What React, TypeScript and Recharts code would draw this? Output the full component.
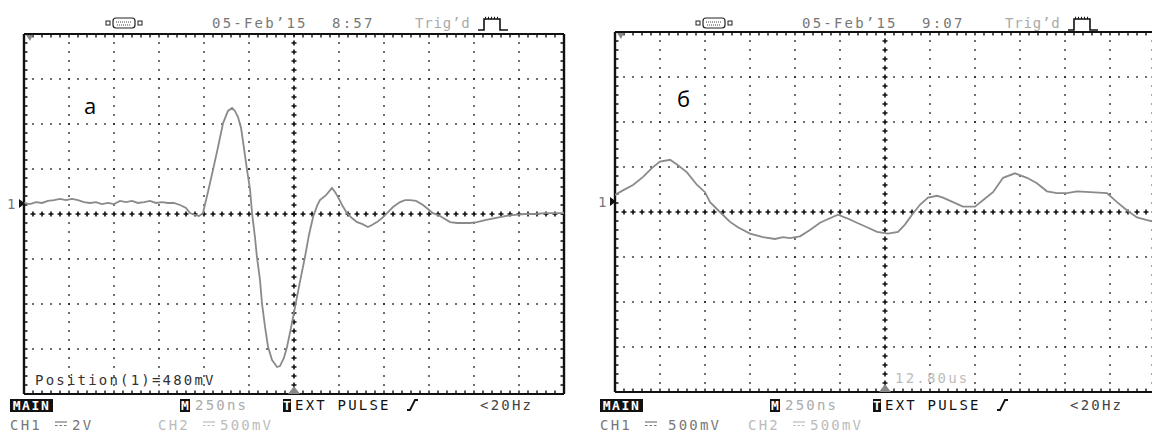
import React from 'react';
import { LineChart, Line, XAxis, YAxis, ReferenceLine } from 'recharts';

// ---- data: panel "а" (time in ns, voltage in V, 2 V/div) ----
const timeA = [-1500, -1467, -1433, -1400, -1367, -1333, -1300, -1267, -1233, -1200, -1167, -1133, -1100, -1067, -1033, -1000, -967, -933, -900, -867, -833, -800, -767, -733, -700, -667, -633, -600, -578, -550, -528, -506, -478, -450, -422, -394, -367, -344, -328, -311, -294, -278, -261, -244, -233, -217, -206, -189, -178, -161, -144, -122, -94, -78, -56, -39, -17, 6, 33, 61, 83, 106, 128, 144, 178, 211, 228, 244, 267, 294, 322, 350, 378, 411, 433, 461, 489, 517, 550, 589, 617, 644, 678, 717, 744, 772, 811, 867, 906, 939, 978, 1017, 1061, 1117, 1172, 1228, 1283, 1339, 1394, 1450, 1500];
const voltA = [0.49, 0.44, 0.53, 0.49, 0.58, 0.62, 0.67, 0.62, 0.67, 0.62, 0.53, 0.49, 0.53, 0.44, 0.49, 0.44, 0.58, 0.53, 0.58, 0.49, 0.53, 0.58, 0.49, 0.53, 0.49, 0.49, 0.4, 0.27, 0.04, -0.04, -0.09, 0.04, 0.98, 1.96, 2.98, 4.04, 4.58, 4.71, 4.58, 4.31, 3.82, 2.93, 1.96, 1.07, 0.04, -1.02, -1.91, -2.93, -3.96, -5.02, -5.91, -6.49, -6.8, -6.76, -6.4, -5.91, -5.07, -4.13, -3.02, -1.91, -0.93, -0.13, 0.36, 0.62, 0.84, 1.16, 0.98, 0.76, 0.4, 0.04, -0.18, -0.36, -0.44, -0.58, -0.49, -0.36, -0.18, 0.04, 0.31, 0.53, 0.62, 0.62, 0.58, 0.4, 0.22, 0.04, -0.09, -0.36, -0.4, -0.4, -0.4, -0.36, -0.27, -0.18, -0.09, -0.04, 0, 0, 0.04, 0.04, 0.04];

// ---- data: panel "б" (time in ns, voltage in V, 0.5 V/div) ----
const timeB = [-1500, -1456, -1400, -1344, -1294, -1250, -1194, -1150, -1100, -1044, -1000, -972, -917, -861, -817, -750, -678, -611, -567, -528, -472, -417, -361, -306, -261, -211, -156, -100, -44, 17, 72, 111, 150, 194, 239, 289, 322, 378, 433, 500, 544, 600, 656, 722, 789, 844, 900, 956, 1011, 1067, 1139, 1233, 1289, 1344, 1400, 1456, 1500];
const voltB = [0.19, 0.24, 0.3, 0.39, 0.49, 0.56, 0.58, 0.52, 0.44, 0.3, 0.22, 0.11, 0, -0.11, -0.17, -0.24, -0.28, -0.3, -0.28, -0.29, -0.27, -0.2, -0.12, -0.07, -0.03, -0.07, -0.12, -0.17, -0.22, -0.24, -0.22, -0.14, -0.03, 0.08, 0.16, 0.18, 0.16, 0.11, 0.06, 0.06, 0.13, 0.22, 0.38, 0.43, 0.38, 0.32, 0.23, 0.21, 0.21, 0.23, 0.22, 0.21, 0.11, 0.02, -0.06, -0.09, -0.11];

// ---- axis ticks (divisions) ----
const timeTicks = [-1500, -1250, -1000, -750, -500, -250, 0, 250, 500, 750, 1000, 1250, 1500];
const voltTicksA = [-8, -6, -4, -2, 0, 2, 4, 6, 8];
const voltTicksB = [-2, -1.5, -1, -0.5, 0, 0.5, 1, 1.5, 2];

const MONO = '"DejaVu Sans Mono", "Liberation Mono", monospace';
const INK = '#111';

function Scope({ times, volts, vTicks }: { times: number[]; volts: number[]; vTicks: number[] }) {
  const data = times.map((t, i) => ({ t, v: volts[i] }));
  const tMin = timeTicks[0];
  const tMax = timeTicks[timeTicks.length - 1];
  const vMin = vTicks[0];
  const vMax = vTicks[vTicks.length - 1];
  const innerT = timeTicks.filter((t) => t !== 0 && t !== tMin && t !== tMax);
  const innerV = vTicks.filter((v) => v !== 0 && v !== vMin && v !== vMax);
  return (
    <LineChart width={580} height={400} margin={{ top: 20, right: 20, bottom: 20, left: 20 }} data={data}>
      <XAxis dataKey="t" type="number" domain={[tMin, tMax]} hide allowDataOverflow />
      <YAxis type="number" domain={[vMin, vMax]} hide allowDataOverflow />
      {innerT.map((t) => (
        <ReferenceLine key={'vx' + t} x={t} stroke={INK} strokeWidth={1.6} strokeDasharray="1.6 7.4" strokeDashoffset={0.8} />
      ))}
      {innerV.map((v) => (
        <ReferenceLine key={'hy' + v} y={v} stroke={INK} strokeWidth={1.6} strokeDasharray="1.6 7.4" strokeDashoffset={0.8} />
      ))}
      {/* centre cross with "+" marks */}
      <ReferenceLine x={0} stroke={INK} strokeWidth={5} strokeDasharray="1.6 7.4" strokeDashoffset={0.8} />
      <ReferenceLine x={0} stroke={INK} strokeWidth={1.6} strokeDasharray="5 4" strokeDashoffset={2.5} />
      <ReferenceLine y={0} stroke={INK} strokeWidth={5} strokeDasharray="1.6 7.4" strokeDashoffset={0.8} />
      <ReferenceLine y={0} stroke={INK} strokeWidth={1.6} strokeDasharray="5 4" strokeDashoffset={2.5} />
      {/* inward border ticks (clipped to the plot) */}
      <ReferenceLine x={tMin} stroke={INK} strokeWidth={7} strokeDasharray="1.4 7.6" strokeDashoffset={0.7} ifOverflow="hidden" />
      <ReferenceLine x={tMax} stroke={INK} strokeWidth={7} strokeDasharray="1.4 7.6" strokeDashoffset={0.7} ifOverflow="hidden" />
      <ReferenceLine y={vMin} stroke={INK} strokeWidth={7} strokeDasharray="1.4 7.6" strokeDashoffset={0.7} ifOverflow="hidden" />
      <ReferenceLine y={vMax} stroke={INK} strokeWidth={7} strokeDasharray="1.4 7.6" strokeDashoffset={0.7} ifOverflow="hidden" />
      {/* frame */}
      <ReferenceLine x={tMin} stroke={INK} strokeWidth={2.4} />
      <ReferenceLine x={tMax} stroke={INK} strokeWidth={2.4} />
      <ReferenceLine y={vMin} stroke={INK} strokeWidth={2} />
      <ReferenceLine y={vMax} stroke={INK} strokeWidth={2} />
      <Line type="linear" dataKey="v" stroke="#8a8a8a" strokeWidth={1.8} dot={false} isAnimationActive={false} />
    </LineChart>
  );
}

function T({ x, y, color = '#777', children, spacing = 2.2, size = 14, weight = 400 }: any) {
  return (
    <div
      style={{
        position: 'absolute',
        left: x,
        top: y - 9,
        height: 18,
        lineHeight: '18px',
        fontFamily: MONO,
        fontSize: size,
        fontWeight: weight,
        letterSpacing: spacing,
        color,
        whiteSpace: 'pre',
      }}
    >
      {children}
    </div>
  );
}

function Box({ x, w, y, children }: any) {
  return (
    <div
      style={{
        position: 'absolute',
        left: x,
        top: y,
        width: w,
        height: 13,
        background: '#111',
        color: '#fff',
        fontFamily: MONO,
        fontSize: 13,
        fontWeight: 700,
        lineHeight: '13px',
        letterSpacing: w > 20 ? 1.6 : 0,
        textAlign: 'center',
        overflow: 'hidden',
      }}
    >
      {children}
    </div>
  );
}

function Connector({ x, y }: { x: number; y: number }) {
  return (
    <g>
      <rect x={x} y={y - 2} width={4} height={4} fill="none" stroke="#222" strokeWidth={1} />
      <rect x={x + 7} y={y - 5} width={22} height={10} rx={3} fill="none" stroke="#222" strokeWidth={1.2} />
      <line x1={x + 10} y1={y - 1} x2={x + 26} y2={y - 1} stroke="#444" strokeWidth={1} strokeDasharray="1 1" />
      <line x1={x + 11} y1={y + 2} x2={x + 25} y2={y + 2} stroke="#444" strokeWidth={1} strokeDasharray="1 1" />
      <rect x={x + 32} y={y - 2} width={4} height={4} fill="none" stroke="#222" strokeWidth={1} />
    </g>
  );
}

function Pulse({ x }: { x: number }) {
  return (
    <g>
      <polyline points={`${x},30 ${x + 6},30 ${x + 6},19 ${x + 22},19 ${x + 22},30 ${x + 30},30`} fill="none" stroke="#111" strokeWidth={1.6} />
      <line x1={x + 7} y1={18} x2={x + 21} y2={18} stroke="#111" strokeWidth={2.5} strokeDasharray="1 2" />
    </g>
  );
}

function DC({ x, y, color }: { x: number; y: number; color: string }) {
  return (
    <g>
      <line x1={x} y1={y - 2} x2={x + 12} y2={y - 2} stroke={color} strokeWidth={1.2} />
      <line x1={x} y1={y + 1.5} x2={x + 12} y2={y + 1.5} stroke={color} strokeWidth={1.2} strokeDasharray="2.5 2" />
    </g>
  );
}

function Slope({ x }: { x: number }) {
  return <polyline points={`${x},410 ${x + 3},410 ${x + 8},400 ${x + 11},400`} fill="none" stroke="#111" strokeWidth={1.8} />;
}

export default function App() {
  return (
    <div style={{ position: 'fixed', left: 0, top: 0, width: 1152, height: 433, overflow: 'hidden', background: '#fff' }}>
      <div style={{ position: 'absolute', left: 4, top: 14 }}>
        <Scope times={timeA} volts={voltA} vTicks={voltTicksA} />
      </div>
      <div style={{ position: 'absolute', left: 595, top: 12 }}>
        <Scope times={timeB} volts={voltB} vTicks={voltTicksB} />
      </div>

      <svg width={1152} height={433} style={{ position: 'absolute', left: 0, top: 0, pointerEvents: 'none' }}>
        <Connector x={106} y={23} />
        <Connector x={696} y={23} />
        <Pulse x={478} />
        <Pulse x={1068} />
        {/* ground markers */}
        <polygon points="19,199 25,203.5 19,208" fill="#111" />
        <polygon points="610,197 616,201.5 610,206" fill="#111" />
        {/* trigger position markers */}
        <polygon points="288,394 294,386 300,394" fill="#888" />
        <polygon points="879,392 885,384 891,392" fill="#888" />
        {/* top-left corner markers */}
        <polygon points="26,35 33,35 30,41" fill="#888" />
        <polygon points="617,33 624,33 621,39" fill="#888" />
        <Slope x={407} />
        <Slope x={997} />
        <DC x={55} y={424} color="#777" />
        <DC x={203} y={424} color="#bbb" />
        <DC x={645} y={424} color="#777" />
        <DC x={793} y={424} color="#bbb" />
      </svg>

      {/* headers */}
      <T x={212} y={23}>05-Feb’15</T>
      <T x={332} y={23}>8:57</T>
      <T x={415} y={23} color="#aaa" spacing={0.8}>Trig’d</T>
      <T x={802} y={23}>05-Feb’15</T>
      <T x={922} y={23}>9:07</T>
      <T x={1005} y={23} color="#aaa" spacing={0.8}>Trig’d</T>

      {/* ground marker labels */}
      <T x={7} y={204} spacing={0}>1</T>
      <T x={598} y={202} spacing={0}>1</T>

      {/* panel labels */}
      <div style={{ position: 'absolute', left: 84, top: 93, fontFamily: '"Open Sans", "Noto Sans", sans-serif', fontSize: 22, lineHeight: '24px', color: '#000' }}>а</div>
      <div style={{ position: 'absolute', left: 677, top: 86, fontFamily: '"Open Sans", "Noto Sans", sans-serif', fontSize: 22, lineHeight: '24px', color: '#000' }}>б</div>

      {/* in-plot annotations */}
      <T x={35} y={380} color="#333">Position(1)=480mV</T>
      <T x={895} y={378} color="#bbb">12.80us</T>

      {/* status row 1 */}
      <Box x={10} w={43} y={399}>MAIN</Box>
      <Box x={180} w={10} y={399}>M</Box>
      <T x={195} y={405} color="#aaa">250ns</T>
      <Box x={283} w={8} y={399}>T</Box>
      <T x={295} y={405} color="#111">EXT PULSE</T>
      <T x={480} y={405} color="#444">{'<20Hz'}</T>

      <Box x={600} w={43} y={399}>MAIN</Box>
      <Box x={770} w={10} y={399}>M</Box>
      <T x={785} y={405} color="#aaa">250ns</T>
      <Box x={873} w={8} y={399}>T</Box>
      <T x={885} y={405} color="#111">EXT PULSE</T>
      <T x={1070} y={405} color="#444">{'<20Hz'}</T>

      {/* status row 2 */}
      <T x={10} y={425}>CH1</T>
      <T x={72} y={425}>2V</T>
      <T x={158} y={425} color="#bbb">CH2</T>
      <T x={220} y={425} color="#bbb">500mV</T>
      <T x={600} y={425}>CH1</T>
      <T x={668} y={425}>500mV</T>
      <T x={748} y={425} color="#bbb">CH2</T>
      <T x={810} y={425} color="#bbb">500mV</T>
    </div>
  );
}
